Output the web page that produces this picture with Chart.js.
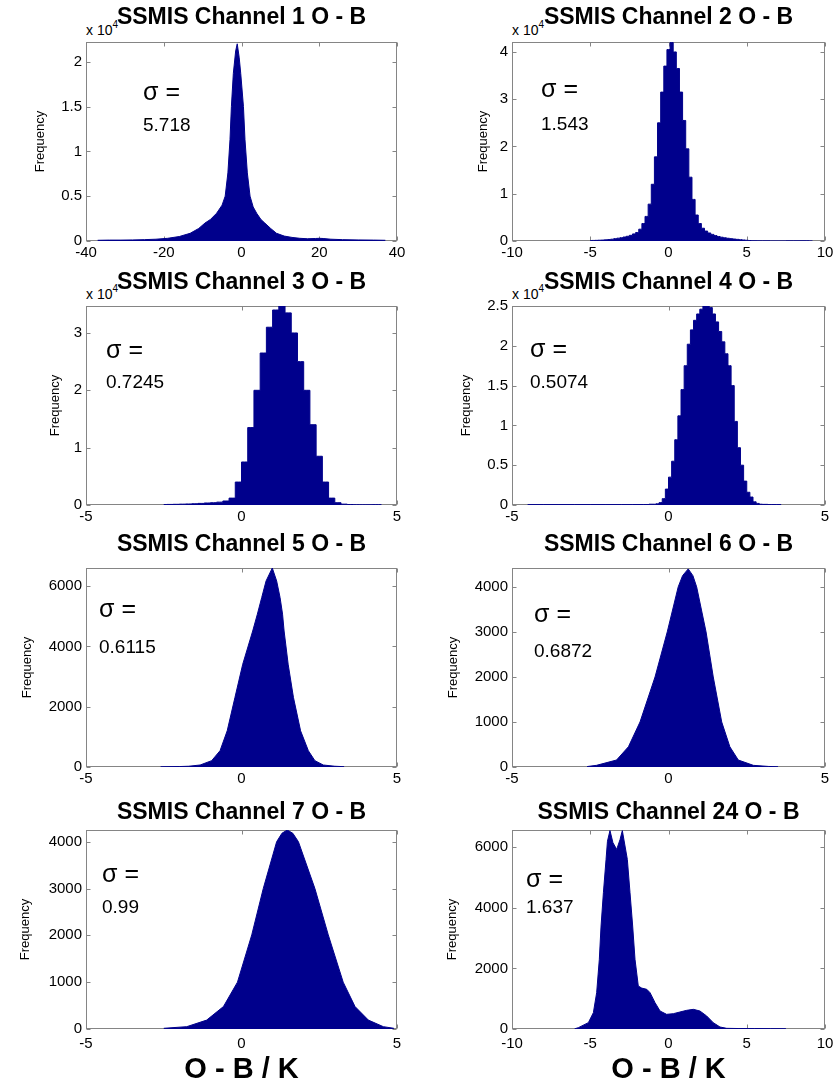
<!DOCTYPE html>
<html>
<head>
<meta charset="utf-8">
<script src="https://cdn.jsdelivr.net/npm/chart.js@4.4.1/dist/chart.umd.min.js"></script>
<style>
  html, body { margin: 0; padding: 0; background: #fff; }
  body { position: relative; width: 840px; height: 1084px; overflow: hidden;
         font-family: "Liberation Sans", Arial, Helvetica, sans-serif; }
  canvas { position: absolute; z-index: 1; }
  .txt { position: absolute; line-height: 1; color: #000; white-space: nowrap; z-index: 2; }
  .expo { position: absolute; line-height: 1; color: #000; white-space: nowrap; z-index: 0; }
</style>
</head>
<body>
<script>
// ---- O - B histogram data (bin centre / outline position, frequency) ----
// Channels 1-4 are in units of 10^4 counts.
const channels = [1, 2, 3, 4, 5, 6, 7, 24];
const sigmas = ['5.718', '1.543', '0.7245', '0.5074', '0.6115', '0.6872', '0.99', '1.637'];

const ch1X = [-37, -34, -31, -28, -25, -22, -19, -16, -13.2, -11, -9.4, -8, -6.4, -5, -4.2,
  -3.5, -2.96, -2.6, -2.1, -1.5, -1.1, -0.6, -0.2, 0.5, 0.9, 1.5, 2.2, 3, 3.9, 5,
  6, 7.5, 9, 11, 13, 15, 17, 19, 20, 21, 23, 26, 30, 34, 37];
const ch1Y = [0.008, 0.01, 0.01, 0.012, 0.015, 0.02, 0.03, 0.05, 0.086, 0.14, 0.2, 0.24, 0.31, 0.4, 0.5,
  0.76, 1.13, 1.5, 1.87, 2.12, 2.2, 2.05, 1.87, 1.5, 1.13, 0.76, 0.5, 0.38, 0.31, 0.24,
  0.2, 0.14, 0.086, 0.055, 0.04, 0.03, 0.025, 0.028, 0.03, 0.028, 0.02, 0.015, 0.012, 0.01, 0.008];

const ch2X = [-5.0, -4.8, -4.6, -4.4, -4.2, -4.0, -3.8, -3.6, -3.4, -3.2, -3.0, -2.8, -2.6, -2.4, -2.2,
  -2.0, -1.8, -1.6, -1.4, -1.2, -1.0, -0.8, -0.6, -0.4, -0.2, 0, 0.2, 0.4, 0.6, 0.8,
  1.0, 1.2, 1.4, 1.6, 1.8, 2.0, 2.2, 2.4, 2.6, 2.8, 3.0, 3.2, 3.4, 3.6, 3.8,
  4.0, 4.2, 4.4, 4.6, 4.8, 5.0, 5.2, 5.4, 6, 7, 8, 8.8, 9.2];
const ch2Y = [0.01, 0.012, 0.014, 0.017, 0.02, 0.025, 0.03, 0.038, 0.05, 0.06, 0.07, 0.085, 0.1, 0.12, 0.15,
  0.18, 0.25, 0.37, 0.52, 0.78, 1.2, 1.78, 2.5, 3.15, 3.7, 4.05, 4.2, 4.0, 3.65, 3.15,
  2.55, 1.95, 1.35, 0.88, 0.55, 0.37, 0.27, 0.21, 0.17, 0.14, 0.115, 0.095, 0.08, 0.068, 0.058,
  0.05, 0.042, 0.035, 0.028, 0.022, 0.016, 0.01, 0.005, 0.003, 0.002, 0.003, 0.004, 0.002];

const ch3X = [-2.5, -2.3, -2.1, -1.9, -1.7, -1.5, -1.3, -1.1, -0.9, -0.7, -0.5, -0.3, -0.1, 0.1, 0.3,
  0.5, 0.7, 0.9, 1.1, 1.3, 1.5, 1.7, 1.9, 2.1, 2.3, 2.5, 2.7, 2.9, 3.1, 3.3,
  3.5, 3.7, 3.9, 4.1, 4.3, 4.5];
const ch3Y = [0.008, 0.01, 0.012, 0.015, 0.018, 0.022, 0.028, 0.035, 0.04, 0.05, 0.07, 0.12, 0.4, 0.75, 1.35,
  2.0, 2.65, 3.1, 3.4, 3.47, 3.35, 3.0, 2.5, 2.0, 1.4, 0.85, 0.4, 0.12, 0.04, 0.015,
  0.008, 0.005, 0.004, 0.004, 0.006, 0.006];

const ch4X = [-4.5, -3.5, -2.5, -1.5, -0.8, -0.45, -0.35, -0.25, -0.15, -0.05, 0.05, 0.15, 0.25, 0.35, 0.45,
  0.55, 0.65, 0.75, 0.85, 0.95, 1.05, 1.15, 1.25, 1.35, 1.45, 1.55, 1.65, 1.75, 1.85, 1.95,
  2.05, 2.15, 2.25, 2.35, 2.45, 2.55, 2.65, 2.75, 2.85, 2.95, 3.05, 3.3, 3.6];
const ch4Y = [0.005, 0.005, 0.005, 0.005, 0.006, 0.01, 0.015, 0.03, 0.08, 0.2, 0.35, 0.55, 0.82, 1.12, 1.45,
  1.75, 2.02, 2.2, 2.32, 2.4, 2.46, 2.5, 2.5, 2.48, 2.4, 2.3, 2.18, 2.05, 1.9, 1.75,
  1.5, 1.05, 0.72, 0.5, 0.3, 0.16, 0.1, 0.04, 0.02, 0.01, 0.008, 0.005, 0.005];

const ch5X = [-2.6, -2.0, -1.7, -1.33, -0.96, -0.69, -0.46, -0.21, 0.04, 0.36, 0.51, 0.65, 0.79, 0.99, 1.13,
  1.24, 1.32, 1.37, 1.5, 1.67, 1.9, 2.15, 2.36, 2.63, 3.0, 3.3];
const ch5Y = [8, 15, 25, 66, 210, 540, 1200, 2310, 3410, 4510, 5070, 5620, 6170, 6600, 6170,
  5620, 5070, 4510, 3410, 2310, 1200, 540, 210, 66, 25, 10];

const ch6X = [-2.6, -2.3, -1.66, -1.28, -0.91, -0.43, -0.04, 0.31, 0.45, 0.63, 0.78, 0.9, 1.2, 1.43, 1.7,
  1.96, 2.23, 2.71, 3.2, 3.5];
const ch6Y = [10, 37, 155, 450, 1000, 2000, 3000, 4000, 4250, 4400, 4250, 4000, 3000, 2000, 1000,
  450, 155, 37, 12, 5];

const ch7X = [-2.5, -1.76, -1.12, -0.58, -0.13, 0.33, 0.7, 1.13, 1.3, 1.47, 1.65, 1.83, 2.36, 2.79, 3.27,
  3.65, 4.08, 4.56, 4.9];
const ch7Y = [15, 50, 190, 480, 1000, 2010, 3000, 4000, 4180, 4250, 4180, 4000, 3000, 2010, 1000,
  480, 190, 50, 15];

const ch24X = [-6.0, -5.76, -5.12, -4.8, -4.59, -4.42, -4.31, -4.16, -3.99, -3.9, -3.74, -3.55, -3.31, -3.1, -2.95,
  -2.63, -2.46, -2.29, -2.14, -1.93, -1.71, -1.39, -1.18, -0.86, -0.54, -0.12, 0.31, 0.73, 1.16, 1.59,
  2.01, 2.44, 2.86, 3.29, 3.72, 4.5, 5.5, 6.5, 7.5];
const ch24Y = [5, 44, 210, 540, 1200, 2300, 3400, 4500, 5600, 6200, 6550, 6150, 5930, 6250, 6550,
  5600, 4500, 3400, 2300, 1420, 1350, 1310, 1200, 870, 594, 484, 506, 561, 616, 649,
  594, 429, 209, 66, 22, 15, 15, 12, 10];

// axis ranges and tick labels per panel
const xRanges = [[-40, 40], [-10, 10], [-5, 5], [-5, 5], [-5, 5], [-5, 5], [-5, 5], [-10, 10]];
const xTickLists = [[-40, -20, 0, 20, 40], [-10, -5, 0, 5, 10], [-5, 0, 5], [-5, 0, 5],
                    [-5, 0, 5], [-5, 0, 5], [-5, 0, 5], [-10, -5, 0, 5, 10]];
const yMaxes = [2.22, 4.21, 3.47, 2.5, 6600, 4420, 4250, 6570];
const yTickLists = [[0, 0.5, 1, 1.5, 2], [0, 1, 2, 3, 4], [0, 1, 2, 3], [0, 0.5, 1, 1.5, 2, 2.5],
                    [0, 2000, 4000, 6000], [0, 1000, 2000, 3000, 4000], [0, 1000, 2000, 3000, 4000],
                    [0, 2000, 4000, 6000]];
const seriesX = [ch1X, ch2X, ch3X, ch4X, ch5X, ch6X, ch7X, ch24X];
const seriesY = [ch1Y, ch2Y, ch3Y, ch4Y, ch5Y, ch6Y, ch7Y, ch24Y];
const steppedBins = [false, true, true, true, false, false, false, false];
const scaledBy1e4 = [true, true, true, true, false, false, false, false];

// ---- page layout ----
const FONT = '"Liberation Sans", Arial, Helvetica, sans-serif';
const NAVY = '#00008c';
const AXIS_GREY = '#858585';
Chart.defaults.font.family = FONT;
Chart.defaults.color = '#000';

const rowTop = [0, 264, 526, 788];
const rowTitleMid = [18, 19, 19, 24.5];
const rowHeight = [263, 263, 263, 296];
const colLeft = [0, 420];
const colAxisW = [86, 92];
const colPadRight = [23, 15];
const PLOT_TOP = 42, PLOT_H = 199;
const TITLE_SIZE = 23, TITLE_LH = 1.2;
// centre of the rotated "Frequency" label within each canvas
const ylabelCentre = [40.5, 63, 55, 46, 27, 33.5, 25, 32.5];
// sigma annotation: left, baseline of "σ =", baseline of the value
const sigmaPos = [[143, 100, 131], [541, 97, 130], [106, 358, 388], [530, 357, 388],
                  [99, 617, 653], [534, 622, 657], [102, 882, 913], [526, 887, 913]];

function addText(html, left, baseline, size, cls) {
  const d = document.createElement('div');
  d.className = cls || 'txt';
  d.innerHTML = html;
  d.style.left = left + 'px';
  d.style.top = (baseline - 0.8465 * size) + 'px';
  d.style.fontSize = size + 'px';
  document.body.appendChild(d);
  return d;
}

// MATLAB-style axes: grey box with inward ticks on all four sides
const matlabAxes = {
  id: 'matlabAxes',
  beforeDatasetsDraw(chart) {
    const { ctx, chartArea: a, scales: { x, y } } = chart;
    ctx.save();
    ctx.strokeStyle = AXIS_GREY;
    ctx.lineWidth = 1;
    const L = Math.round(a.left) + 0.5, R = Math.round(a.right) - 0.5;
    const T = Math.round(a.top) + 0.5, B = Math.round(a.bottom) - 0.5;
    ctx.strokeRect(L, T, R - L, B - T);
    ctx.beginPath();
    x.ticks.forEach(t => {
      const px = Math.round(x.getPixelForValue(t.value)) + 0.5;
      ctx.moveTo(px, B); ctx.lineTo(px, B - 4);
      ctx.moveTo(px, T); ctx.lineTo(px, T + 4);
    });
    y.ticks.forEach(t => {
      const py = Math.round(y.getPixelForValue(t.value)) + 0.5;
      ctx.moveTo(L, py); ctx.lineTo(L + 4, py);
      ctx.moveTo(R, py); ctx.lineTo(R - 4, py);
    });
    ctx.stroke();
    ctx.restore();
  }
};

channels.forEach((ch, i) => {
  const col = i % 2, row = Math.floor(i / 2);
  const bottomRow = row === 3;
  const cw = 420, chh = rowHeight[row];
  const canvas = document.createElement('canvas');
  canvas.width = cw; canvas.height = chh;
  canvas.style.width = cw + 'px'; canvas.style.height = chh + 'px';
  canvas.style.left = colLeft[col] + 'px';
  canvas.style.top = rowTop[row] + 'px';
  document.body.appendChild(canvas);

  const titleLine = TITLE_SIZE * TITLE_LH;
  const titlePadTop = rowTitleMid[row] - titleLine / 2;
  const titlePadBottom = PLOT_TOP - titleLine - titlePadTop;
  const xs = seriesX[i], ys = seriesY[i];
  const [xMin, xMax] = xRanges[i];

  new Chart(canvas, {
    type: 'line',
    data: {
      datasets: [{
        data: xs.map((x, k) => ({ x: x, y: ys[k] })),
        stepped: steppedBins[i] ? 'middle' : false,
        fill: 'origin',
        backgroundColor: NAVY,
        borderColor: NAVY,
        borderWidth: 1,
        pointRadius: 0,
        tension: 0
      }]
    },
    options: {
      responsive: false,
      animation: false,
      devicePixelRatio: 1,
      layout: { padding: { left: 0, right: colPadRight[col], top: 0, bottom: 0 } },
      plugins: {
        legend: { display: false },
        tooltip: { enabled: false },
        title: {
          display: true,
          fullSize: false,
          text: 'SSMIS Channel ' + ch + ' O - B',
          color: '#000',
          font: { family: FONT, size: TITLE_SIZE, weight: 'bold', lineHeight: TITLE_LH },
          padding: { top: titlePadTop, bottom: titlePadBottom }
        }
      },
      scales: {
        x: {
          type: 'linear',
          min: xMin, max: xMax,
          grid: { display: false, drawTicks: false },
          border: { display: false },
          afterBuildTicks(s) { s.ticks = xTickLists[i].map(v => ({ value: v })); },
          ticks: {
            autoSkip: false, maxRotation: 0,
            padding: bottomRow ? 6 : 3, color: '#000',
            font: { family: FONT, size: 15 },
            callback: v => String(v)
          },
          title: {
            display: bottomRow,
            text: 'O - B / K',
            color: '#000',
            font: { family: FONT, size: 29, weight: 'bold', lineHeight: 1 },
            padding: { top: 0, bottom: 0 }
          },
          afterFit(s) { s.height = chh - PLOT_TOP - PLOT_H; s.paddingLeft = 0; s.paddingRight = 0; }
        },
        y: {
          type: 'linear',
          min: 0, max: yMaxes[i],
          grid: { display: false, drawTicks: false },
          border: { display: false },
          afterBuildTicks(s) { s.ticks = yTickLists[i].map(v => ({ value: v })); },
          ticks: {
            autoSkip: false,
            padding: 4, color: '#000',
            font: { family: FONT, size: 15 },
            callback: v => String(v)
          },
          title: {
            display: true,
            text: 'Frequency',
            color: '#000',
            font: { family: FONT, size: 13, lineHeight: 1.2 },
            padding: { top: ylabelCentre[i] - 7.8, bottom: 0 }
          },
          afterFit(s) { s.width = colAxisW[col]; s.paddingTop = 0; s.paddingBottom = 0; }
        }
      }
    },
    plugins: [matlabAxes]
  });

  // axis multiplier for the 10^4-scaled panels (partly hidden behind the title)
  if (scaledBy1e4[i]) {
    const plotLeft = colLeft[col] + colAxisW[col];
    addText('x 10<span style="font-size:10px;position:relative;top:-7px">4</span>',
            plotLeft, rowTop[row] + 35, 14, 'expo');
  }

  // standard deviation annotation
  const [sl, sb, nb] = sigmaPos[i];
  addText('σ =', sl, sb, 25);
  addText(sigmas[i], sl, nb, 19);
});
</script>
</body>
</html>
